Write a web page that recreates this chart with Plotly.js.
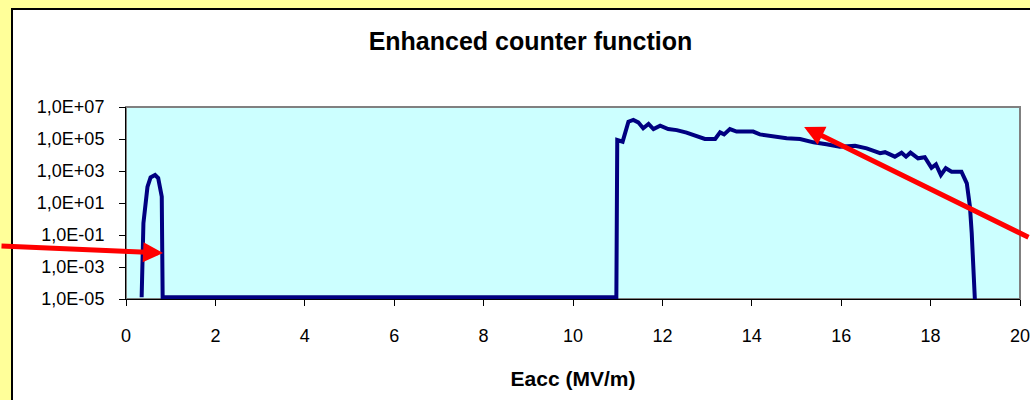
<!DOCTYPE html>
<html>
<head>
<meta charset="utf-8">
<script src="https://cdn.plot.ly/plotly-3.0.1.min.js"></script>
<style>
  html, body { margin: 0; padding: 0; width: 1030px; height: 400px; overflow: hidden; background: #FFFF99; }
  #frame { position: absolute; left: 11px; top: 8px; width: 1019px; height: 392px; background: #FFFFFF;
           border-left: 2px solid #000000; border-top: 2px solid #000000; box-sizing: border-box; }
  #chart { position: absolute; left: 0; top: 0; width: 1030px; height: 400px; }
</style>
</head>
<body>
<div id="frame"></div>
<div id="chart"></div>
<script>
// Eacc (MV/m)
const eacc = [0.35, 0.39, 0.48, 0.55, 0.65, 0.72, 0.80, 0.82,
  10.97, 10.99, 11.11, 11.24, 11.35, 11.46, 11.57, 11.69, 11.80, 11.95, 12.13, 12.32, 12.54,
  12.95, 13.18, 13.29, 13.38, 13.51, 13.66, 14.03, 14.18, 14.48, 14.78, 15.08, 15.38, 15.67,
  15.97, 16.31, 16.57, 16.87, 16.98, 17.20, 17.35, 17.45, 17.55, 17.72, 17.87, 18.02, 18.12,
  18.23, 18.34, 18.47, 18.69, 18.81, 18.88, 18.92, 18.99];
// counter values
const counts = [1.3e-5, 0.56, 100, 400, 560, 360, 25, 1.3e-5,
  1.3e-5, 8.7e4, 6.8e4, 1.2e6, 1.55e6, 1.1e6, 4.7e5, 8.7e5, 4.2e5, 6.8e5, 4.2e5, 3.6e5, 2.5e5,
  1.0e5, 1.0e5, 2.6e5, 1.95e5, 4.2e5, 2.9e5, 2.9e5, 1.95e5, 1.4e5, 1.1e5, 1.0e5, 6.2e4, 4.7e4,
  3.3e4, 3.8e4, 2.6e4, 1.3e4, 1.5e4, 7.9e3, 1.4e4, 7.9e3, 1.4e4, 6.2e3, 7.2e3, 1.6e3, 2.6e3,
  560, 1.5e3, 910, 910, 170, 5.9, 0.13, 1.0e-5];

const yTickVals = [1e-5, 1e-3, 1e-1, 1e1, 1e3, 1e5, 1e7];
const yTickText = ["1,0E-05", "1,0E-03", "1,0E-01", "1,0E+01", "1,0E+03", "1,0E+05", "1,0E+07"];
const xTickVals = [0, 2, 4, 6, 8, 10, 12, 14, 16, 18, 20];

const font = "Liberation Sans, Arial, sans-serif";

const trace = {
  x: eacc, y: counts, type: "scatter", mode: "lines",
  line: { color: "#000080", width: 4 }, hoverinfo: "skip"
};

const layout = {
  width: 1030, height: 400,
  margin: { l: 126, r: 10, t: 107, b: 101 },
  paper_bgcolor: "rgba(0,0,0,0)",
  plot_bgcolor: "#CCFFFF",
  showlegend: false,
  font: { family: font, color: "#000000", size: 18 },
  title: {
    text: "<b>Enhanced counter function</b>",
    font: { family: font, size: 25, color: "#000000" },
    xref: "container", x: 0.515, xanchor: "center",
    yref: "container", y: 0.898, yanchor: "middle"
  },
  xaxis: {
    range: [0, 20], tickvals: xTickVals, ticks: "outside", ticklen: 6, tickwidth: 1,
    tickcolor: "#000000", showline: true, linecolor: "#000000", linewidth: 1,
    showgrid: false, zeroline: false, ticklabelstandoff: 14, ticklabeloverflow: "allow",
    tickfont: { family: font, size: 18 },
    title: { text: "<b>Eacc (MV/m)</b>", font: { family: font, size: 21 }, standoff: 26 }
  },
  yaxis: {
    type: "log", range: [-5, 7], tickvals: yTickVals, ticktext: yTickText,
    ticks: "outside", ticklen: 6, tickwidth: 1, tickcolor: "#000000",
    showline: true, linecolor: "#000000", linewidth: 1,
    showgrid: false, zeroline: false, ticklabelstandoff: 11,
    tickfont: { family: font, size: 18 }
  },
  shapes: [{
    type: "rect", xref: "paper", yref: "paper", x0: 0, x1: 1, y0: 0, y1: 1,
    line: { color: "#808080", width: 2 }, layer: "below"
  }],
  annotations: [
    { x: 0.83, y: Math.log10(0.0075), xref: "x", yref: "y", text: "", showarrow: true,
      arrowhead: 2, arrowsize: 0.8, arrowwidth: 5, arrowcolor: "#FF0000",
      axref: "pixel", ayref: "pixel", ax: -170, ay: -7, standoff: 0 },
    { x: 15.17, y: Math.log10(5.6e5), xref: "x", yref: "y", text: "", showarrow: true,
      arrowhead: 2, arrowsize: 0.8, arrowwidth: 5, arrowcolor: "#FF0000",
      axref: "pixel", ayref: "pixel", ax: 240, ay: 111, standoff: 0 }
  ]
};

Plotly.newPlot("chart", [trace], layout, { displayModeBar: false, staticPlot: true });
</script>
</body>
</html>
